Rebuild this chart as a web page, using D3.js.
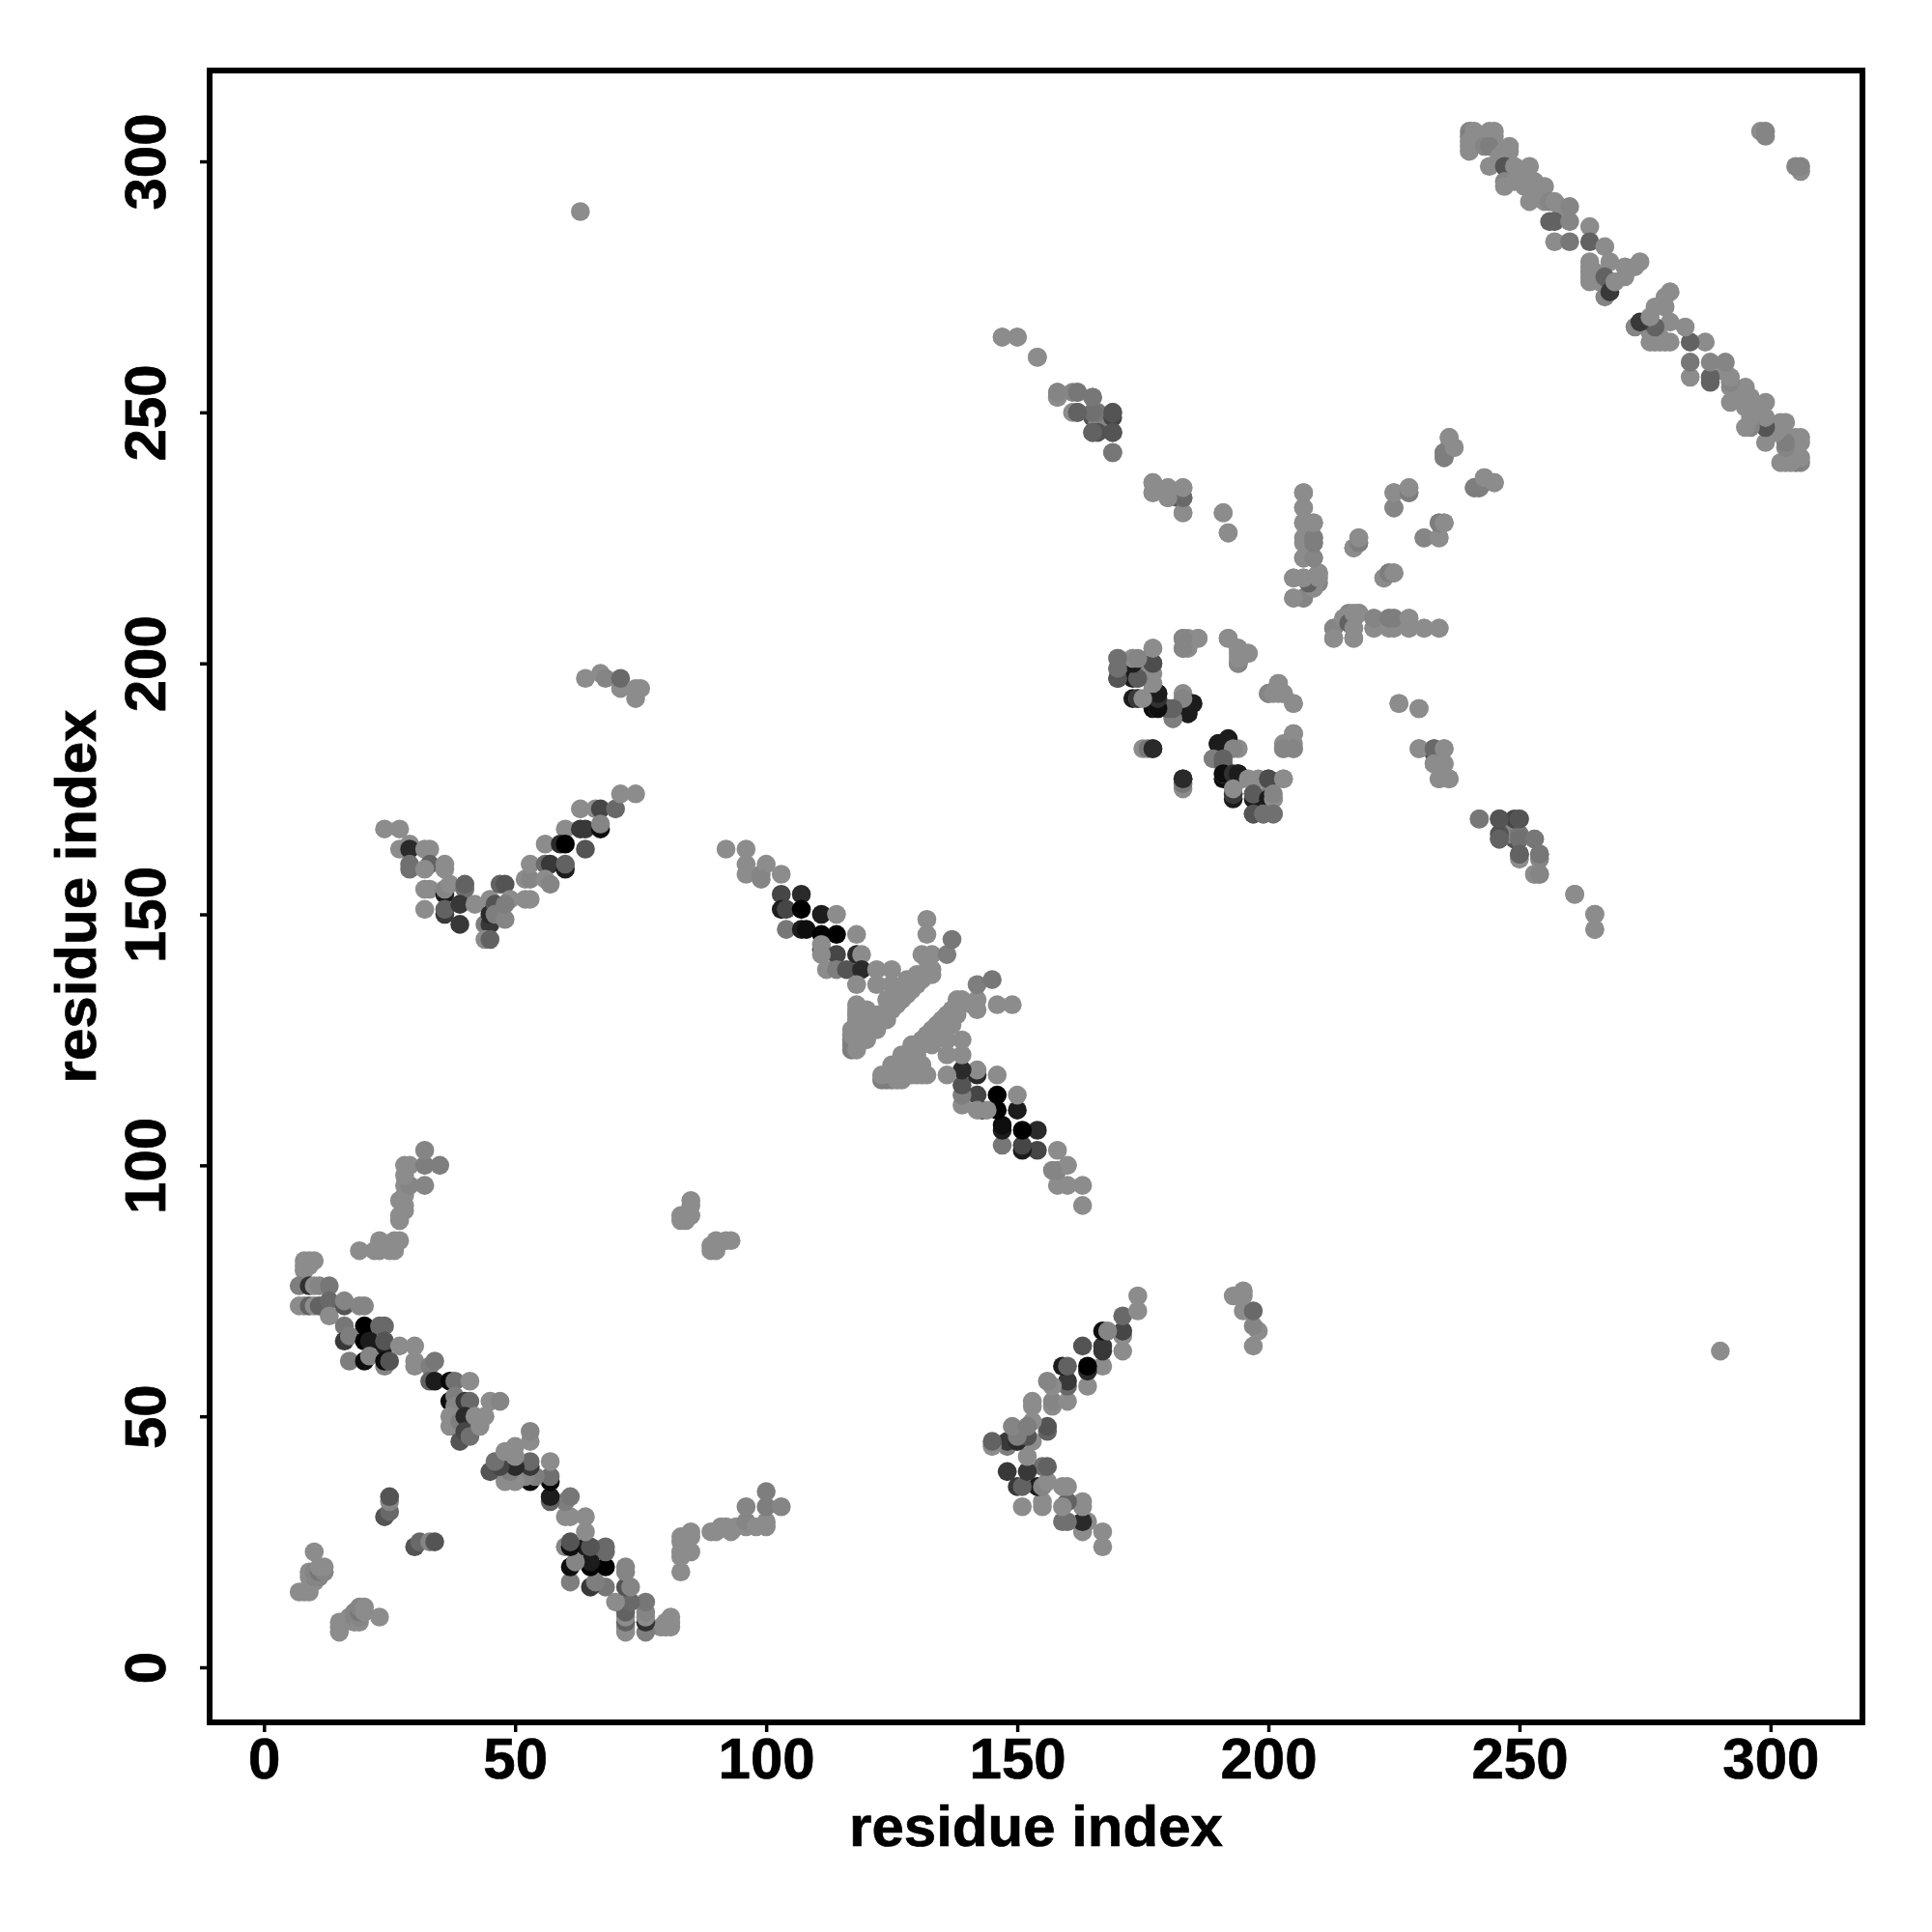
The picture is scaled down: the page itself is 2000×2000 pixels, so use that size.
<!DOCTYPE html>
<html><head><meta charset="utf-8">
<script src="https://cdn.jsdelivr.net/npm/d3@7"></script>
<style>html,body{margin:0;background:#fff}svg{display:block}text{font-family:"Liberation Sans",Arial,sans-serif;font-weight:700;fill:#000;stroke:#000;stroke-width:.7px}</style>
</head><body><div id="c"></div>
<script>
// Each contact is [residue i, residue j, score]; score 0 (light) .. 10 (black), omitted = 0.
const hairpinA = [[8,79],[8,80],[8,81],[9,81],[10,81],[9,80],
[7,76,1],[9,76,6.5],[10,76],[11,76,.5],[13,76,1.5],
[7,72],[8,72],[9,72,3],[10,72],[11,72,3],[13,73,2.5],[13,70],[16,72,4],[16,73,.5],[19,72,.5],[20,72,.5],
[16,68,1.5],[20,68,10],[23,68,2.5],[24,68,2.5],
[16,65,6],[17,66,1],[20,65,10],[21,65,8],[24,64,8],[24,65,4],
[17,61,1],[20,61,9],[21,62,.5],[24,60,.5],[24,61,9],[25,61,4],
[27,64],[30,64],[30,61],[30,60],
[33,60,1],[34,61,1.5],[33,57,3],[34,57,8],[37,57,9.5],[38,57,2],[41,57],
[37,53,9],[38,54,1],[38,52,.5],[40,53,6],[41,53,2.5],[45,53],[47,53,.5],[37,50],[37,48],[39,49,1],[40,50,7],[39,45,4],[40,47,5],[42,50],[44,50],[41,46,2],[43,48]];
const branchA = [[19,83],[22,83],[23,83],[25,83],[26,83],[23,85],[26,85],[27,85],[27,89],[27,90],[28,91],[28,92],[27,93],[28,94],[28,96],[29,96,.5],[32,96,.5],[28,98],[28,100],[29,100],[32,100,1],[35,100,1],[32,103,.5]];
const shortA = [[84,89],[84,90],[85,90],[85,92],[85,93],[83,89],[83,90]];
const tailA = [[7,15],[8,15],[9,15],[9,16],[10,17],[9,18],[10,18,.5],[11,18,.5],[9,19],[10,19,.5],[11,19,1.5],[12,19,.5],[11,20],[12,20],[10,23]];
const tailB = [[24,30,4],[25,31,2.5],[25,33,.5],[25,34,4]];
const crossA = [[64,197],[67,198],[68,197,.5],[71,195],[71,197,2.5],[74,195],[75,195],[74,193]];
const crossB = [[24,167],[27,167],[27,163],[29,164],[29,163,7],[29,160,2],[29,159,2],[32,163],[33,163],[33,160,3],[32,159],[36,160],[36,159],[32,155],[33,155],[36,154,8],[36,155,.5],[37,156],[40,155,2],[40,156,3],[32,151],[36,150,6],[36,151,3],[39,152,6],[39,148,6],[42,152],
[45,153],[44,148,1],[45,148,6],[44,145],[45,145,3],[45,150,7],[46,152,4],[46,150,1],[48,149,.5],[47,156,3],[48,156,4],[49,153],[48,152,1],[52,153],[53,153],[52,157],[53,157,.5],[53,160],[56,164],[56,160,2.5],[57,160,6],[56,157],[57,156,.5],[60,167],[59,164,7],[60,164,10],[60,159,8],[60,160,3],[63,171],[63,167,6],[64,167,6],[64,163,4],[66,171],[67,171,5],[67,167,9],[67,168,.5],[70,171,2.5],[71,174],[74,174]];
const hairpinB = [[92,163],[96,163],[96,160],[96,158],[99,158,.5],[100,160],[99,157,.5],[103,158],[103,154,5],[103,151,8],[104,151,5],[107,154,7],[104,147,1.5],[107,147,8],[108,147,9],[107,151,10],[111,150,8],[111,146,10],[114,150],[114,146,10],[111,143,6],[111,144],[114,142,5],[111,142],[118,146],[112,139],[114,139,1],[116,139,4],[118,142,7],[119,142],[119,139,7],[118,136],[122,139],[122,136],[125,139],[125,136],
[117,123,1],[117,124,1],[117,125,1],[117,126],[117,127],[118,123],[118,125],[118,127],[118,129],[118,130],[118,132],[120,125],[120,127],[120,129],[122,127],[122,129],[122,130],[124,129],[124,131],[124,133],[125,131],[125,133],[126,132],[126,134],[127,133],[127,135],[128,134],[128,136],[128,137],[129,135],[129,137],[130,136],[130,138],[131,137],[131,138],[132,138],[133,139],[133,138],[132,141],[131,142],[133,142],[136,142,1],[132,146],[132,149],[137,145,1.5],[118,131],[120,131]];
const crossC = [[147,265],[150,265],[154,261,.5],[158,253],[158,254,.5],[161,254,.5],[162,254,1],[165,253,.5],[161,250],[162,250,4],[165,249,4],[166,248,.5],[166,250,1.5],[169,249,5],[169,250,1.5],[165,246,1],[166,246,4],[169,246,5.5],[169,242,1.5]];
const crossD = [[177,236],[177,234],[180,235],[180,233,1],[182,233,4],[183,233,2.5],[183,235],[183,230],[191,230],[192,226]];
const columnA = [[207,234],[207,231],[207,228],[209,228],[207,225],[209,225,.5],[209,224,1],[207,221],[209,221,.5],[209,217,3],[210,218],[210,216,.5],[209,215,1],[205,217],[207,217],[205,213],[207,213,.5]];
const sparseA = [[218,225,.5],[217,223,1],[218,224,1],[225,234],[225,231,1],[228,234,2],[228,235],[231,225,.5],[234,225],[234,228,1],[235,228],[223,217],[224,218,1],[225,218],[241,235,1],[242,235,2],[243,236],[243,237],[245,236],[235,241,1],[235,242,1],[236,243,1],[237,243],[236,245]];
const rowA = [[213,207,.5],[213,205],[215,209],[216,208,3],[217,207],[217,205],[217,210],[218,210],[221,207],[221,209,.5],[224,207],[224,209,1],[225,209,1],[228,207],[228,209],[231,207],[234,207]];
const ringA = [[183,203],[183,205],[184,205],[186,205],[192,205,.5],[194,200,2],[194,203],[194,202],[196,202,.5],[177,203],
[170,197,5],[170,199,3],[170,201,.5],[173,197,8],[173,201],[174,197,1.5],[174,200,.5],[177,200,4],[177,198],[173,193,8],[174,193],[177,191,9],[177,193,9],[178,194,8.5],[177,195],[178,191],[180,191,1],[181,189],[183,194],[184,190,9],[183,192,8],[184,191,8],[184,192,8],
[202,196],[200,194,.5],[201,194],[203,194],[205,192],[226,192],[230,191],
[175,183],[177,183,7],[183,176,1.5],[183,177,7],[205,186],[203,184],[203,183,.5],[205,183,.5],
[190,184,8],[191,184,8],[192,185,8],[193,183,.5],[189,181,1],[191,181,3],[191,180,3],[191,178,9],[193,178,6.5],[194,178,8],[193,174,6],[193,175],[196,177],[200,177,4.5],[203,177],[197,174,3.5],[200,173,8],[201,173],[201,174,.5],[197,170,4],[199,170,2],[201,170,2]];
const crossE = [[230,183],[233,183,2.5],[235,183],[233,180],[235,180],[234,177],[236,177],
[242,169,1.5],[246,169,4],[250,169,4],[246,165,3],[250,165,2],[253,165,1.5],[250,162,3],[254,162,1.5],[253,158],[254,158,.5],[261,154],[265,150],[265,147]];
const hairpinC = [[240,306,.5],[240,305,1],[241,306],[241,305],[241,304],[240,304],[240,302],[244,306],[245,306],[245,305],[243,305],[240,303],[243,303,.5],[244,303,1],[248,303],[248,302],[246,301],[247,302],[244,299],[247,299,4],[249,299],[250,298],[251,297],[252,299],[247,296,.5],[247,295],[249,296],[250,296],[252,296],[253,296],[253,295],[254,295],[255,295],[251,295],[254,294],[253,293],[252,292],[255,292],[256,292,.5],[257,292],[258,291],[260,291,.5],[256,288,3],[257,288,3],[260,288,.5],[264,287],[257,284],[260,284,1.5],[264,284,3],[267,283],[264,280],[264,279],[264,278],[264,277],[264,276],[265,278],[266,276],[268,280],[267,277,3],[267,273,.5],[268,274,6],[271,279],[274,280],[271,277],[269,276],[273,279]];
const isolated = [[63,290],[298,306],[299,306,.5],[299,305,.5]];

const contacts = [hairpinA,branchA,shortA,tailA,tailB,crossA,crossB,hairpinB,crossC,crossD,columnA,sparseA,rowA,ringA,crossE,hairpinC,isolated].flat();
const points = contacts.flatMap(([i,j,s=0]) => [{x:i,y:j,s},{x:j,y:i,s}]);

const xLabel = "residue index", yLabel = "residue index";
const xTicks = [0,50,100,150,200,250,300], yTicks = [0,50,100,150,200,250,300];

const L=217,R=1928,T=73,B=1783;
const x = d3.scaleLinear().domain([-10.83,318.3]).range([L,R]);
const y = d3.scaleLinear().domain([-10.97,318.1]).range([B,T]);
const tone = d3.scaleLinear().domain([0,10]).range([140,0]);
const svg = d3.select("#c").append("svg").attr("width",2000).attr("height",2000);

svg.append("g").selectAll("circle").data(points).join("circle")
  .attr("cx",d=>x(d.x)).attr("cy",d=>y(d.y)).attr("r",9.8)
  .attr("fill",d=>{const g=Math.round(tone(d.s));return `rgb(${g},${g},${g})`;});

svg.append("rect").attr("x",L).attr("y",T).attr("width",R-L).attr("height",B-T)
  .attr("fill","none").attr("stroke","#000").attr("stroke-width",6);

const ax = svg.append("g").attr("transform",`translate(0,${B})`)
  .call(d3.axisBottom(x).tickValues(xTicks).tickSize(10).tickPadding(5).tickFormat(d3.format("d")));
ax.select(".domain").remove();
ax.selectAll("line").attr("stroke-width",3.5);
ax.selectAll("text").style("font-size","60px").attr("fill","#000");

const ay = svg.append("g").attr("transform",`translate(${L},0)`)
  .call(d3.axisLeft(y).tickValues(yTicks).tickSize(10).tickFormat(d3.format("d")));
ay.select(".domain").remove();
ay.selectAll("line").attr("stroke-width",3.5);
ay.selectAll("text").style("font-size","60px").attr("fill","#000")
  .attr("transform","rotate(-90)").attr("x",0).attr("y",-46).attr("dy",0).attr("text-anchor","middle");

svg.append("text").attr("x",(L+R)/2).attr("y",1911).attr("text-anchor","middle").style("font-size","60px").text(xLabel);
svg.append("text").attr("transform",`translate(99,${(T+B)/2}) rotate(-90)`).attr("text-anchor","middle").style("font-size","60px").text(yLabel);
</script></body></html>
